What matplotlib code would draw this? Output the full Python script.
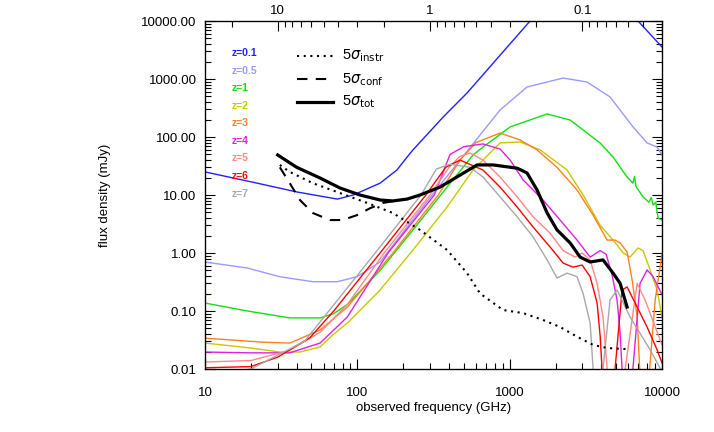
import matplotlib
matplotlib.use("Agg")
import matplotlib.pyplot as plt
from matplotlib.ticker import FixedLocator, NullFormatter, LogLocator

plt.rcParams['font.family'] = ['Liberation Sans', 'DejaVu Sans']
plt.rcParams['mathtext.fontset'] = 'dejavusans'

# ---------------- data (frequency in GHz, flux density in mJy) ----------------
f_z01 = [10, 22, 40, 74, 94, 141, 182, 212, 232, 366, 525, 1361, 2000, 3000, 4500, 6966, 10000]
s_z01 = [25, 16, 11.3, 8.5, 10, 16, 27, 45, 60, 221, 574, 10000, 18000, 25000, 20000, 10000, 3560]

f_z05 = [10, 19, 31, 51, 74, 99.5, 141, 232, 300, 472, 865, 1300, 2245, 3220, 4560, 6460, 7980, 9290, 10000]
s_z05 = [0.70, 0.55, 0.39, 0.32, 0.32, 0.39, 0.70, 3.8, 9, 40, 292, 728, 1040, 887, 490, 149, 79, 67, 49]

f_z1 = [10, 19, 36, 57, 70, 86, 141, 232, 388, 575, 668, 1007, 1762, 2495, 3920, 4775, 5900, 6450, 6600, 6750, 7510, 8200, 8500, 8750, 9100, 9420, 10000]
s_z1 = [0.137, 0.10, 0.076, 0.076, 0.09, 0.13, 0.5, 2.5, 13.7, 49, 67, 149, 250, 196, 79, 45, 20.4, 16, 21, 14, 9.3, 7.5, 9.0, 6.7, 7.5, 4.0, 3.7]

f_z2 = [10, 20, 31, 42, 57, 69, 86, 141, 232, 388, 575, 865, 1170, 1585, 2380, 3035, 3930, 4775, 5560, 6170, 6970, 7510, 8360, 9290, 10000]
s_z2 = [0.028, 0.023, 0.0196, 0.0196, 0.024, 0.0386, 0.062, 0.23, 1.13, 6.2, 27, 79, 82, 60, 27, 10, 3.0, 1.67, 1.0, 0.85, 1.22, 1.1, 0.51, 0.23, 0.079]

f_z3 = [10, 24, 36, 57, 86, 171, 340, 472, 600, 865, 1170, 1513, 2045, 2770, 3530, 4365, 4920, 5310, 5900, 6370, 6870, 7300, 8000, 9020, 10000]
s_z3 = [0.034, 0.029, 0.028, 0.047, 0.117, 1.0, 10, 40, 80, 117, 89, 60, 30, 12.2, 4.5, 1.67, 1.67, 1.49, 1.04, 0.34, 0.079, 0.003, 0.003, 0.155, 0.95]

f_z4 = [10, 20, 36, 57, 86, 159, 320, 406, 500, 668, 865, 1007, 1225, 1656, 2143, 2770, 3375, 3930, 4300, 4700, 5070, 5310, 5600, 6200, 7180, 7980, 8750, 10000]
s_z4 = [0.0196, 0.019, 0.019, 0.028, 0.079, 1.0, 10, 50, 68, 76, 62, 40, 18.2, 8.2, 3.7, 1.67, 0.85, 1.1, 0.95, 0.42, 0.155, 0.042, 0.003, 0.003, 0.30, 0.51, 0.39, 0.19]

f_z5 = [10, 20, 36, 57, 86, 150, 300, 400, 470, 550, 668, 865, 1120, 1426, 1842, 2245, 2690, 2990, 3375, 3750, 4100, 4365, 4500, 5500, 5730, 6870, 7740, 10000]
s_z5 = [0.0132, 0.014, 0.021, 0.043, 0.13, 1.0, 10, 30, 46, 53, 40, 20.4, 9.3, 4.2, 2.2, 1.1, 0.85, 1.0, 0.76, 0.30, 0.079, 0.01, 0.003, 0.003, 0.01, 0.30, 0.155, 0.026]

f_z6 = [10, 20, 30, 49, 70, 141, 282, 380, 472, 668, 865, 1120, 1426, 1842, 2245, 2607, 2990, 3375, 3750, 3930, 4040, 4200, 4800, 4920, 5470, 5900, 6870, 7980, 9290, 10000]
s_z6 = [0.0105, 0.011, 0.016, 0.035, 0.10, 1.0, 10, 30, 40, 27, 13.7, 6.2, 2.8, 1.27, 0.67, 0.57, 0.62, 0.39, 0.137, 0.036, 0.01, 0.003, 0.003, 0.01, 0.23, 0.26, 0.117, 0.053, 0.0214, 0.0127]

f_z7 = [10, 15, 20, 45, 65, 131, 262, 330, 406, 550, 668, 865, 1120, 1426, 1762, 2045, 2380, 2770, 3035, 3375, 3530, 3650, 4000, 4100, 4560, 5070, 6170, 8360, 10000]
s_z7 = [0.009, 0.009, 0.01, 0.03, 0.1, 1.0, 10, 28, 34, 30, 20.4, 9.3, 4.2, 1.89, 0.76, 0.37, 0.45, 0.39, 0.2, 0.062, 0.01, 0.003, 0.003, 0.01, 0.155, 0.23, 0.079, 0.0214, 0.009]

f_instr = [31, 36, 51, 77, 116, 171, 258, 388, 525, 640, 905, 1225, 1656, 2143, 2770, 3530, 4365, 5900]
s_instr = [33, 25, 16, 10.8, 7.3, 4.9, 2.5, 1.13, 0.45, 0.2, 0.104, 0.092, 0.07, 0.053, 0.036, 0.026, 0.023, 0.022]

f_conf = [31, 36, 42, 51, 66, 80, 99.5, 121, 147, 177]
s_conf = [30, 16, 8.2, 4.9, 3.7, 3.7, 4.5, 5.9, 7.3, 7.9]

f_tot = [30, 40, 57, 77, 104, 141, 171, 212, 258, 349, 472, 611, 778, 1120, 1300, 1513, 1762, 2045, 2495, 2900, 3375, 4100, 4775, 5310, 5900]
s_tot = [49, 30, 19.6, 13.2, 10, 8.2, 7.9, 8.5, 10, 13.7, 22, 33, 33, 29, 24, 12.2, 4.9, 2.5, 1.49, 0.85, 0.70, 0.76, 0.45, 0.30, 0.117]

z_labels = ["z=0.1", "z=0.5", "z=1", "z=2", "z=3", "z=4", "z=5", "z=6", "z=7"]
z_colors = ["#2020ff", "#9a9aff", "#10e010", "#c8c800", "#ff8020", "#e020e0", "#ff8888", "#ff0000", "#a8a8a8"]
z_freqs = [f_z01, f_z05, f_z1, f_z2, f_z3, f_z4, f_z5, f_z6, f_z7]
z_fluxes = [s_z01, s_z05, s_z1, s_z2, s_z3, s_z4, s_z5, s_z6, s_z7]

noise_labels = [r"5$\sigma_{\rm instr}$", r"5$\sigma_{\rm conf}$", r"5$\sigma_{\rm tot}$"]

ytick_vals = [0.01, 0.1, 1, 10, 100, 1000, 10000]
xtick_vals = [10, 100, 1000, 10000]
wl_ticks = [10, 1, 0.1]

# ---------------- figure ----------------
fig = plt.figure(figsize=(7.14, 4.32), dpi=100)
ax = fig.add_axes([205/714, 1-369/432, 457/714, 348/432])
ax.set_xscale('log')
ax.set_yscale('log')
ax.set_xlim(10, 10000)
ax.set_ylim(0.01, 10000)

for fr, fl, c in zip(z_freqs, z_fluxes, z_colors):
    ax.plot(fr, fl, color=c, lw=1.0)

ax.plot(f_instr, s_instr, color='black', lw=1.5, linestyle=(0, (1, 2.2)))
ax.plot(f_conf, s_conf, color='black', lw=1.5, linestyle=(0, (5, 4)))
ax.plot(f_tot, s_tot, color='black', lw=2.3)

# legends
for i, (lab, c) in enumerate(zip(z_labels, z_colors)):
    ax.text(0.059, 0.908 - i*0.0505, lab, color=c, fontsize=7.5, fontweight='bold',
            transform=ax.transAxes, va='center', ha='left')

styles = [(0, (1, 2.2)), (0, (5, 4)), '-']
widths = [1.5, 1.5, 2.3]
ys = [0.899, 0.832, 0.767]
for lab, ls, lw, yy in zip(noise_labels, styles, widths, ys):
    ax.plot([0.201, 0.280], [yy, yy], transform=ax.transAxes, color='black', ls=ls, lw=lw)
    ax.text(0.300, yy, lab, transform=ax.transAxes, fontsize=10.5, va='center', ha='left')

# axes styling
ax.yaxis.set_major_locator(FixedLocator(ytick_vals))
ax.set_yticklabels(["%.2f" % v for v in ytick_vals])
ax.xaxis.set_major_locator(FixedLocator(xtick_vals))
ax.set_xticklabels([str(v) for v in xtick_vals])
ax.xaxis.set_minor_locator(LogLocator(base=10, subs=range(2, 10)))
ax.yaxis.set_minor_locator(LogLocator(base=10, subs=range(2, 10)))
ax.xaxis.set_minor_formatter(NullFormatter())
ax.yaxis.set_minor_formatter(NullFormatter())
ax.tick_params(which='both', direction='in', right=True, top=False, labelsize=9.5)
ax.tick_params(axis='x', which='both', pad=13)
ax.tick_params(axis='y', which='both', pad=6)
ax.tick_params(which='major', length=7, width=0.8)
ax.tick_params(which='minor', length=4, width=0.8)
ax.set_xlabel("observed frequency (GHz)", fontsize=9.5, labelpad=2)
ax.set_ylabel("flux density (mJy)", fontsize=9.5, labelpad=22)
for sp in ax.spines.values():
    sp.set_linewidth(0.9)

ax2 = ax.twiny()
ax2.set_xscale('log')
ax2.set_xlim(300/10, 300/10000)
ax2.xaxis.set_major_locator(FixedLocator(wl_ticks))
ax2.set_xticklabels(["10", "1", "0.1"])
ax2.xaxis.set_minor_locator(LogLocator(base=10, subs=range(2, 10)))
ax2.xaxis.set_minor_formatter(NullFormatter())
ax2.tick_params(which='both', direction='in', labelsize=9.5, pad=3)
ax2.tick_params(which='major', length=7, width=0.8)
ax2.tick_params(which='minor', length=4, width=0.8)

fig.savefig("out.png", dpi=100)
